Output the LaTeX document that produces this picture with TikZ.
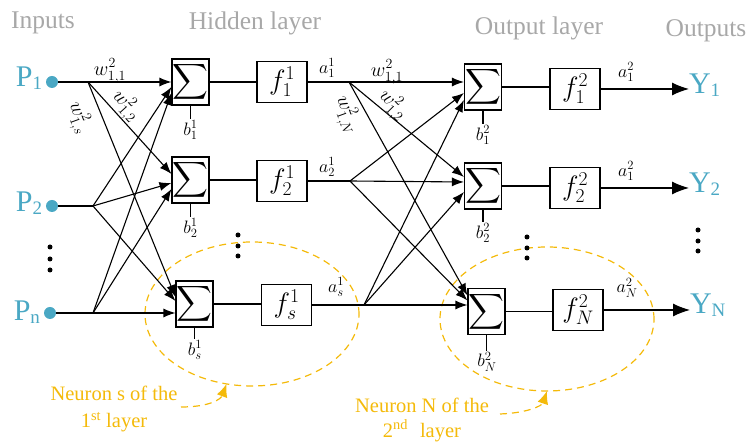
\RequirePackage{fix-cm}
\documentclass[tikz,border=0pt]{standalone}
\usepackage{exscale}
\usepackage[no-math]{fontspec}
\setmainfont{Liberation Serif}
\usetikzlibrary{arrows.meta,shapes.geometric}

\definecolor{portteal}{RGB}{74,168,196}
\definecolor{headgray}{RGB}{168,168,168}
\definecolor{notegold}{RGB}{244,186,10}

\newcommand{\portsub}[1]{\raisebox{-2.5pt}{\fontsize{19}{19}\selectfont #1}}

\begin{document}
\begin{tikzpicture}[x=1pt,y=1pt,
  heading/.style={text=headgray, font=\fontsize{25.5}{26}\selectfont, inner sep=0pt},
  portlabel/.style={text=portteal, font=\fontsize{30}{30}\selectfont, inner sep=0pt, outer sep=0pt},
  portdot/.style={circle, fill=portteal, minimum size=12pt, inner sep=0pt},
  sumbox/.style={draw, line width=1.1pt, minimum width=37pt, minimum height=46pt, inner sep=0pt,
                 font=\fontsize{24}{24}\selectfont},
  actbox/.style={draw, line width=1.1pt, minimum width=50pt, minimum height=41pt, inner sep=0pt,
                 font=\fontsize{28}{28}\selectfont},
  wire/.style={line width=1.1pt},
  feed/.style={line width=1.1pt, -{Latex[length=12pt,width=9pt]}},
  outfeed/.style={line width=1.1pt, -{Latex[length=17pt,width=13pt]}},
  wlabel/.style={font=\fontsize{20}{20}\selectfont, inner sep=0pt},
  alabel/.style={font=\fontsize{18}{18}\selectfont, inner sep=0pt},
  blabel/.style={font=\fontsize{18}{18}\selectfont, inner sep=1pt},
  ring/.style={ellipse, draw=notegold, dash pattern=on 7pt off 5pt, line width=1.2pt,
               minimum width=214pt, minimum height=144pt, inner sep=0pt, outer sep=0pt},
  note/.style={text=notegold, font=\fontsize{20.5}{27}\selectfont, align=center, inner sep=0pt},
  notearrow/.style={draw=notegold, line width=1.2pt, dash pattern=on 7pt off 5pt,
                    -{Latex[length=13pt,width=11pt]}},
  vdot/.style={circle, fill=black, minimum size=5pt, inner sep=0pt}
]
\useasboundingbox (0,0) rectangle (748,443);

% layer headings
\node[heading, anchor=base] (hIn)  at (43,414)  {Inputs};
\node[heading, anchor=base] (hHid) at (255,413) {Hidden layer};
\node[heading, anchor=base] (hOut) at (539,408) {Output layer};
\node[heading, anchor=base] (hY)   at (706,406) {Outputs};

% neuron highlight rings
\node[ring] (ring1) at (252,129) {};
\node[ring] (ring2) at (547,124) {};

% inputs
\node[portdot] (P1) at (52,361) {};
\node[portdot] (P2) at (52,237) {};
\node[portdot] (Pn) at (50,130) {};
\node[portlabel, anchor=base east] (P1t) at (42,356) {P\portsub{1}};
\node[portlabel, anchor=base east] (P2t) at (42,231) {P\portsub{2}};
\node[portlabel, anchor=base east] (Pnt) at (40,122) {P\portsub{n}};
\foreach \yy/\nm in {196/i1,184/i2,173/i3} \node[vdot] (\nm) at (50,\yy) {};

\coordinate (B1) at (88,361);
\coordinate (B2) at (93,237);
\coordinate (Bn) at (93,130);
\draw[wire] (P1) -- (B1);
\draw[wire] (P2) -- (B2);
\draw[wire] (Pn) -- (Bn);

% hidden layer
\node[sumbox] (S1) at (190.5,361) {$\displaystyle\sum$};
\node[sumbox] (S2) at (190.5,263) {$\displaystyle\sum$};
\node[sumbox] (Ss) at (194.5,139) {$\displaystyle\sum$};
\node[actbox] (F1) at (282,361) {$f^1_1$};
\node[actbox] (F2) at (282,262) {$f^1_2$};
\node[actbox] (Fs) at (286.5,138) {$f^1_s$};
\foreach \yy/\nm in {208/h1,197/h2,187/h3} \node[vdot] (\nm) at (238,\yy) {};

\foreach \b/\s/\d in {B1/S1/0, B2/S1/-5, Bn/S1/-11,
                      B1/S2/6, B2/S2/-3, Bn/S2/-9,
                      B1/Ss/7, B2/Ss/3, Bn/Ss/-9}
  \draw[feed] (\b) -- ([yshift=\d pt]\s.west);

\node[wlabel] (w111) at (110,372) {$w^2_{1,1}$};
\node[wlabel, rotate=-48] (w112) at (126,337) {$w^2_{1,2}$};
\node[wlabel, rotate=-70] (w11s) at (79,325) {$w^2_{1,s}$};

\draw[wire] (S1.east) -- (S1.east -| F1.west);
\draw[wire] (S2.east) -- (S2.east -| F2.west);
\draw[wire] (Ss.east) -- (Ss.east -| Fs.west);

\node[blabel] (b11) at (190.5,313) {$b^1_1$};
\node[blabel] (b21) at (190.5,215) {$b^1_2$};
\node[blabel] (bs1) at (195,93)    {$b^1_s$};
\draw[wire] (S1.south) -- (S1.south |- b11.north);
\draw[wire] (S2.south) -- (S2.south |- b21.north);
\draw[wire] (Ss.south) -- (Ss.south |- bs1.north);

\coordinate (H1) at (349,361);
\coordinate (H2) at (350,262);
\coordinate (Hs) at (364,138);
\draw[wire] (F1.east) -- (H1);
\draw[wire] (F2.east) -- (H2);
\draw[wire] (Fs.east) -- (Hs);
\node[alabel] (a11) at (327,375) {$a^1_1$};
\node[alabel] (a21) at (327,276) {$a^1_2$};
\node[alabel] (as1) at (336,156) {$a^1_s$};

% output layer
\node[sumbox] (O1) at (483,356)   {$\displaystyle\sum$};
\node[sumbox] (O2) at (483,257)   {$\displaystyle\sum$};
\node[sumbox] (ON) at (486.5,131.5) {$\displaystyle\sum$};
\node[actbox] (G1) at (575,354) {$f^2_1$};
\node[actbox] (G2) at (575,255) {$f^2_2$};
\node[actbox] (GN) at (578,133) {$f^2_N$};
\foreach \yy/\nm in {206/o1,195/o2,185/o3} \node[vdot] (\nm) at (527,\yy) {};

\foreach \h/\o/\d in {H1/O1/5, H2/O1/-6, Hs/O1/-13,
                      H1/O2/9, H2/O2/4, Hs/O2/-6,
                      H1/ON/16, H2/ON/11, Hs/ON/6.5}
  \draw[feed] (\h) -- ([yshift=\d pt]\o.west);

\node[wlabel] (w211) at (387,371) {$w^2_{1,1}$};
\node[wlabel, rotate=-45] (w212) at (393,338) {$w^2_{1,2}$};
\node[wlabel, rotate=-70] (w21N) at (347,328) {$w^2_{1,N}$};

\draw[wire] (O1.east) -- (O1.east -| G1.west);
\draw[wire] (O2.east) -- (O2.east -| G2.west);
\draw[wire] (ON.east) -- (ON.east -| GN.west);

\node[blabel] (b12) at (483,308) {$b^2_1$};
\node[blabel] (b22) at (483,210) {$b^2_2$};
\node[blabel] (bN2) at (487,81)  {$b^2_N$};
\draw[wire] (O1.south) -- (O1.south |- b12.north);
\draw[wire] (O2.south) -- (O2.south |- b22.north);
\draw[wire] (ON.south) -- (ON.south |- bN2.north);

% outputs
\node[portlabel, anchor=base west] (Y1) at (689,349) {Y\portsub{1}};
\node[portlabel, anchor=base west] (Y2) at (689,250) {Y\portsub{2}};
\node[portlabel, anchor=base west] (YN) at (690,129) {Y\portsub{N}};
\draw[outfeed] (G1.east) -- (G1.east -| Y1.west);
\draw[outfeed] (G2.east) -- (G2.east -| Y2.west);
\draw[outfeed] (GN.east) -- (GN.east -| YN.west);
\node[alabel] (a12) at (626,371) {$a^2_1$};
\node[alabel] (a22) at (626,272) {$a^2_1$};
\node[alabel] (aN2) at (627,155) {$a^2_N$};
\foreach \yy/\nm in {213/y1,202/y2,192/y3} \node[vdot] (\nm) at (698,\yy) {};

% annotations
\node[note] (note1) at (114,34) {Neuron s of the\\1\textsuperscript{st} layer};
\node[note, font=\fontsize{20.5}{24.5}\selectfont] (note2) at (422,23)
  {Neuron N of the\\2\textsuperscript{nd}\,\, layer};
\coordinate (n1s) at (181,36);
\coordinate (n2s) at (500,29);
\draw[notearrow] (n1s) .. controls (210,36) and (221,44) .. (ring1.250);
\draw[notearrow] (n2s) .. controls (527,30) and (542,37) .. (ring2.south);
\end{tikzpicture}
\end{document}
